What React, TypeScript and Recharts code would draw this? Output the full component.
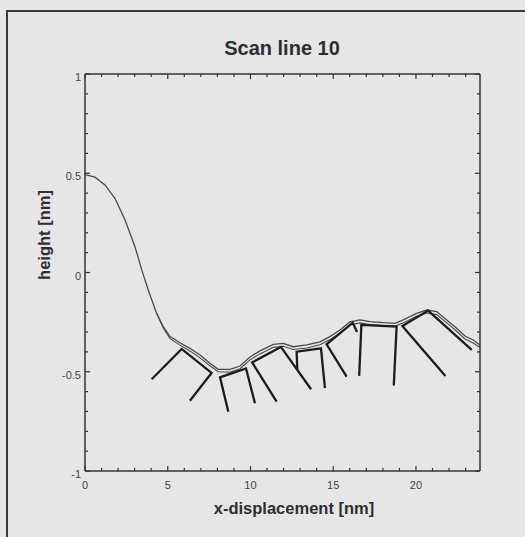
import { LineChart, Line, XAxis, YAxis } from "recharts";

// measured profile (upper trace)
const surfaceX = [0, 0.6, 1.21, 1.81, 2.42, 3.02, 3.43, 3.82, 4.33, 4.73, 5.14, 5.74, 6.34, 6.95, 7.55, 8.05, 8.76, 9.37, 9.97, 10.57, 11.38, 11.98, 12.59, 13.4, 14.2, 14.8, 15.41, 16.01, 16.62, 17.22, 18.02, 18.73, 19.23, 20.04, 20.65, 21.25, 21.86, 22.46, 22.96, 23.46, 23.87];
const surfaceY = [0.493, 0.48, 0.441, 0.374, 0.264, 0.13, 0.013, -0.088, -0.206, -0.273, -0.323, -0.354, -0.382, -0.416, -0.457, -0.488, -0.488, -0.471, -0.426, -0.395, -0.362, -0.357, -0.374, -0.365, -0.349, -0.323, -0.29, -0.249, -0.239, -0.248, -0.253, -0.256, -0.239, -0.206, -0.189, -0.197, -0.239, -0.281, -0.32, -0.34, -0.365];

// reconstructed profile (lower trace, splits off after ~4 nm)
const traceX = [4.33, 4.73, 5.14, 5.74, 6.34, 6.95, 7.55, 8.05, 8.76, 9.37, 9.97, 10.57, 11.38, 11.98, 12.59, 13.4, 14.2, 14.8, 15.41, 16.01, 16.62, 17.22, 18.02, 18.73, 19.23, 20.04, 20.65, 21.25, 21.86, 22.46, 22.96, 23.46, 23.87];
const traceY = [-0.206, -0.28, -0.333, -0.366, -0.395, -0.43, -0.47, -0.5, -0.502, -0.485, -0.44, -0.41, -0.377, -0.372, -0.388, -0.38, -0.364, -0.338, -0.305, -0.264, -0.254, -0.262, -0.267, -0.27, -0.254, -0.221, -0.204, -0.212, -0.254, -0.296, -0.335, -0.355, -0.378];

// tip outlines, one polyline each
const tipXs = [
  [4.03, 5.84, 7.65, 6.34],
  [8.66, 8.16, 9.73, 10.27],
  [11.58, 10.1, 11.84, 13.66],
  [12.83, 12.79, 14.26, 14.5],
  [15.81, 14.6, 16.18, 16.44],
  [16.57, 16.7, 18.83, 18.66],
  [21.78, 19.18, 20.74, 23.37],
];
const tipYs = [
  [-0.538, -0.385, -0.506, -0.646],
  [-0.702, -0.528, -0.483, -0.659],
  [-0.651, -0.453, -0.375, -0.588],
  [-0.491, -0.399, -0.382, -0.583],
  [-0.525, -0.362, -0.253, -0.3],
  [-0.521, -0.264, -0.272, -0.569],
  [-0.521, -0.27, -0.192, -0.39],
];

const xTicks = [0, 1, 2, 3, 4, 5, 6, 7, 8, 9, 10, 11, 12, 13, 14, 15, 16, 17, 18, 19, 20, 21, 22, 23];
const yTicks = [-1, -0.9, -0.8, -0.7, -0.6, -0.5, -0.4, -0.3, -0.2, -0.1, 0, 0.1, 0.2, 0.3, 0.4, 0.5, 0.6, 0.7, 0.8, 0.9, 1];

const surface = surfaceX.map((x, i) => ({ x, y: surfaceY[i] }));
const trace = traceX.map((x, i) => ({ x, y: traceY[i] }));
const tips = tipXs.map((xs, t) => xs.map((x, i) => ({ x, y: tipYs[t][i] })));

const ink = "#333";
const font = "'Liberation Sans', Arial, sans-serif";

const isMajorX = (v: number) => v % 5 === 0;
const isMajorY = (v: number) => Math.abs(v * 2 - Math.round(v * 2)) < 1e-6;

const BottomTick = ({ x, y, payload }: any) => {
  const major = isMajorX(payload.value);
  return (
    <g>
      <line x1={x} x2={x} y1={y} y2={y - (major ? 5 : 3)} stroke={ink} strokeWidth={1.2} />
      {major && (
        <text x={x} y={y + 18} textAnchor="middle" fontSize={11} fontFamily={font} fill="#444">
          {payload.value}
        </text>
      )}
    </g>
  );
};

const TopTick = ({ x, y, payload }: any) => (
  <line x1={x} x2={x} y1={y} y2={y + (isMajorX(payload.value) ? 5 : 3)} stroke={ink} strokeWidth={1.2} />
);

const LeftTick = ({ x, y, payload }: any) => {
  const major = isMajorY(payload.value);
  return (
    <g>
      <line x1={x} x2={x + (major ? 5 : 3)} y1={y} y2={y} stroke={ink} strokeWidth={1.2} />
      {major && (
        <text x={x - 4} y={y + 7} textAnchor="end" fontSize={11} fontFamily={font} fill="#444">
          {Math.round(payload.value * 10) / 10}
        </text>
      )}
    </g>
  );
};

const RightTick = ({ x, y, payload }: any) => (
  <line x1={x} x2={x - (isMajorY(payload.value) ? 5 : 3)} y1={y} y2={y} stroke={ink} strokeWidth={1.2} />
);

export default function App() {
  return (
    <div
      style={{
        position: "absolute",
        left: 0,
        top: 0,
        width: 525,
        height: 537,
        background: "#e6e6e6",
        overflow: "hidden",
      }}
    >
      {/* figure frame */}
      <div
        style={{
          position: "absolute",
          left: 6,
          top: 10,
          width: 600,
          height: 600,
          borderLeft: "2px solid #3a3a3a",
          borderTop: "2px solid #3a3a3a",
        }}
      />

      <LineChart
        width={525}
        height={537}
        margin={{ top: 73, left: 84, right: 44, bottom: 65 }}
        style={{ position: "absolute", left: 0, top: 0 }}
      >
        <XAxis
          dataKey="x"
          type="number"
          domain={[0, 23.87]}
          allowDataOverflow
          ticks={xTicks}
          interval={0}
          height={1}
          tickSize={0}
          tickMargin={0}
          tickLine={false}
          tick={<BottomTick />}
          axisLine={{ stroke: ink, strokeWidth: 1.5 }}
        />
        <XAxis
          xAxisId="top"
          orientation="top"
          dataKey="x"
          type="number"
          domain={[0, 23.87]}
          allowDataOverflow
          ticks={xTicks}
          interval={0}
          height={1}
          tickSize={0}
          tickMargin={0}
          tickLine={false}
          tick={<TopTick />}
          axisLine={{ stroke: ink, strokeWidth: 1.5 }}
        />
        <YAxis
          type="number"
          domain={[-1, 1]}
          allowDataOverflow
          ticks={yTicks}
          interval={0}
          width={1}
          tickSize={0}
          tickMargin={0}
          tickLine={false}
          tick={<LeftTick />}
          axisLine={{ stroke: ink, strokeWidth: 1.5 }}
        />
        <YAxis
          yAxisId="right"
          orientation="right"
          type="number"
          domain={[-1, 1]}
          allowDataOverflow
          ticks={yTicks}
          interval={0}
          width={1}
          tickSize={0}
          tickMargin={0}
          tickLine={false}
          tick={<RightTick />}
          axisLine={{ stroke: ink, strokeWidth: 1.5 }}
        />

        <Line data={surface} dataKey="y" type="linear" stroke="#4a4a4a" strokeWidth={1.3} dot={false} activeDot={false} isAnimationActive={false} />
        <Line data={trace} dataKey="y" type="linear" stroke="#4a4a4a" strokeWidth={1.1} dot={false} activeDot={false} isAnimationActive={false} />
        {tips.map((tip, i) => (
          <Line key={i} data={tip} dataKey="y" type="linear" stroke="#1c1c1c" strokeWidth={2.3} dot={false} activeDot={false} isAnimationActive={false} />
        ))}
      </LineChart>

      <svg width={525} height={537} style={{ position: "absolute", left: 0, top: 0, pointerEvents: "none" }}>
        <text x={282} y={55} textAnchor="middle" fontSize={20} fontWeight="bold" fontFamily={font} fill="#2e2e2e">
          Scan line 10
        </text>
        <text x={294} y={513.5} textAnchor="middle" fontSize={16.5} fontWeight="bold" fontFamily={font} fill="#2e2e2e">
          x-displacement [nm]
        </text>
        <text
          transform="translate(50 235) rotate(-90)"
          textAnchor="middle"
          fontSize={16.5}
          fontWeight="bold"
          fontFamily={font}
          fill="#2e2e2e"
        >
          height [nm]
        </text>
      </svg>
    </div>
  );
}
